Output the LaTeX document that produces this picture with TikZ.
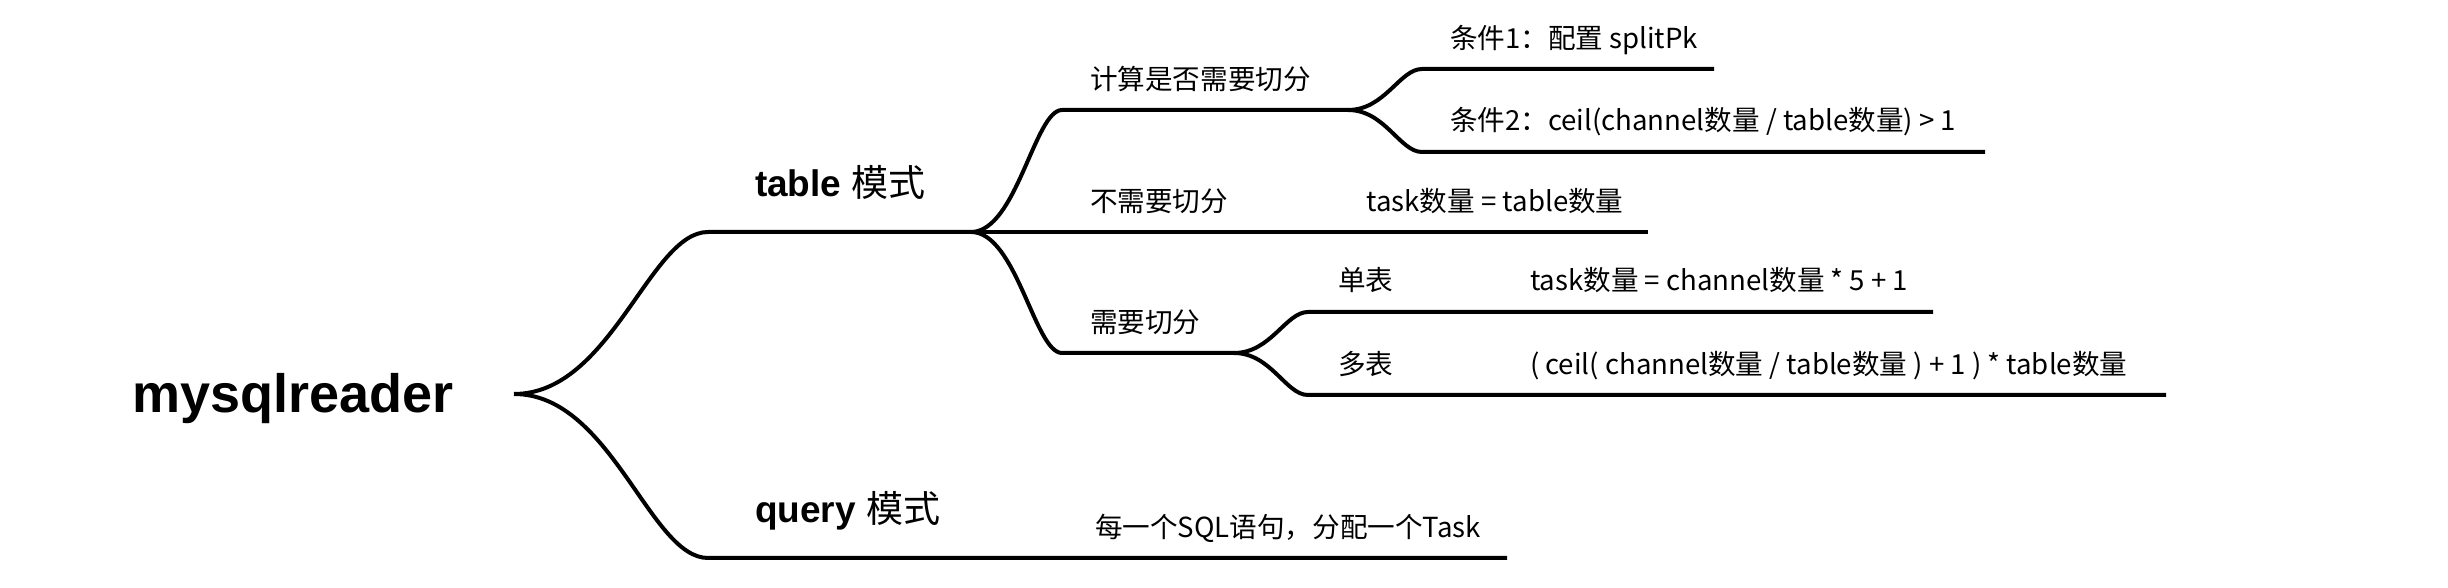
\documentclass[tikz,border=0pt]{standalone}
\usepackage{fontspec}
\setmainfont{Liberation Sans}
\newfontfamily\cjk{Noto Sans CJK SC}
\usetikzlibrary{calc, positioning}

\tikzset{
  branch/.style={to path={.. controls ($(\tikztostart)!0.5!(\tikztostart -| \tikztotarget)$) and ($(\tikztotarget)!0.3!(\tikztotarget -| \tikztostart)$) .. (\tikztotarget)}},
  rootlabel/.style={anchor=base west, inner sep=0pt, font=\fontsize{54}{60}\selectfont\bfseries},
  mainlabel/.style={anchor=base west, inner sep=0pt, font=\fontsize{37}{44}\selectfont\bfseries},
  sublabel/.style={anchor=base west, inner sep=0pt, font=\cjk\fontsize{27.6}{33}\selectfont},
}

\begin{document}
\begin{tikzpicture}[x=1pt, y=1pt, line width=4pt, line join=round]
    \useasboundingbox (0, 0) rectangle (2448, 588);

    % Wurzel
    \node[rootlabel] (mysql) at (130, 175){mysqlreader};
    \coordinate (root) at (514, 194);

    % erste Ebene
    \coordinate (tableS) at (708, 356);
    \coordinate (tableE) at (971, 356);
    \coordinate (queryS) at (708, 30);
    \coordinate (queryE) at (1507, 30);
    \node[mainlabel] (tablemode) at (753, 391){table {\cjk\mdseries 模式}};
    \node[mainlabel] (querymode) at (753, 65){query {\cjk\mdseries 模式}};
    \node[sublabel] (persql) at (1093, 50.5){每一个SQL语句，分配一个Task};

    \draw (root) to[branch] (tableS) -- (tableE);
    \draw (root) to[branch] (queryS) -- (queryE);

    % zweite Ebene
    \coordinate (calcS) at (1062, 478);
    \coordinate (calcE) at (1348, 478);
    \coordinate (nosplitE) at (1648, 356);
    \coordinate (splitS) at (1062, 235);
    \coordinate (splitE) at (1234, 235);
    \node[sublabel] (calc) at (1088, 498){计算是否需要切分};
    \node[sublabel] (nosplit) at (1088, 376){不需要切分};
    \node[sublabel] (nosplitcount) at (1364.5, 376){task数量 = table数量};
    \node[sublabel] (split) at (1088, 255){需要切分};

    \draw (tableE) to[branch] (calcS) -- (calcE);
    \draw (tableE) -- (nosplitE);
    \draw (tableE) to[branch] (splitS) -- (splitE);

    % dritte Ebene
    \coordinate (condoneS) at (1422, 519);
    \coordinate (condoneE) at (1714, 519);
    \coordinate (condtwoS) at (1422, 436);
    \coordinate (condtwoE) at (1985, 436);
    \coordinate (singleS) at (1308, 276);
    \coordinate (singleE) at (1933, 276);
    \coordinate (multiS) at (1308, 193);
    \coordinate (multiE) at (2166, 193);
    \node[sublabel] (condone) at (1448, 539){条件1：配置 splitPk};
    \node[sublabel] (condtwo) at (1448, 457){条件2：ceil(channel数量 / table数量) > 1};
    \node[sublabel] (single) at (1336, 297){单表};
    \node[sublabel] (singlecount) at (1528, 297){task数量 = channel数量 * 5 + 1};
    \node[sublabel] (multi) at (1336, 213){多表};
    \node[sublabel] (multicount) at (1528, 213){( ceil( channel数量 / table数量 ) + 1 ) * table数量};

    \draw (calcE) to[branch] (condoneS) -- (condoneE);
    \draw (calcE) to[branch] (condtwoS) -- (condtwoE);
    \draw (splitE) to[branch] (singleS) -- (singleE);
    \draw (splitE) to[branch] (multiS) -- (multiE);
\end{tikzpicture}
\end{document}
